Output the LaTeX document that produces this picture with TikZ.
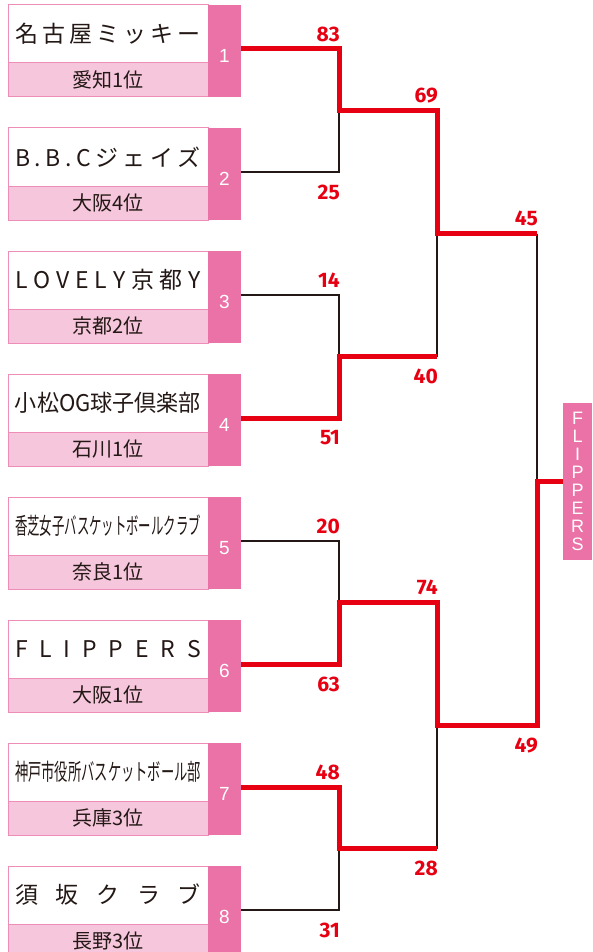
\documentclass[tikz,border=0pt]{standalone}
\usepackage{fontspec}
\usepackage{graphicx}
\usepackage{xcolor}
\setmainfont{Noto Sans CJK JP}
\newfontfamily\numfont{Liberation Sans}
\newfontfamily\scorefont{Fira Sans}
\definecolor{numpink}{HTML}{EA72A7}
\definecolor{subpink}{HTML}{F6C7DC}
\definecolor{edgepink}{HTML}{EF8DB9}
\definecolor{winred}{HTML}{E60012}
\definecolor{inkblack}{HTML}{231815}
\makeatletter
\newcommand{\spreadname}[1]{\makebox[186pt][s]{\@tfor\tmpch:=#1\do{\tmpch\hfill}\unskip}}
\makeatother
\newcommand{\squeezename}[1]{\resizebox{186pt}{\height}{#1}}
\tikzset{
	namebox/.style={draw=edgepink, line width=1pt, fill=white, minimum width=200pt, minimum height=58pt, inner sep=0pt, text=inkblack, font=\fontsize{23}{23}\selectfont},
	subbox/.style={draw=edgepink, line width=1pt, fill=subpink, minimum width=200pt, minimum height=34pt, inner sep=0pt, text=inkblack, font=\fontsize{20}{20}\selectfont},
	numbox/.style={fill=numpink, minimum width=33pt, minimum height=92pt, inner sep=0pt},
	seed/.style={inner sep=0pt, yshift=-5pt, text=white, font=\numfont\fontsize{19}{19}\selectfont},
	champbox/.style={fill=numpink, minimum width=29pt, minimum height=157pt, inner sep=0pt, text=white, align=center, font=\numfont\fontsize{18}{18}\selectfont},
	score/.style={anchor=east, inner sep=0pt, text=winred, font=\scorefont\bfseries\fontsize{21}{21}\selectfont},
	lost/.style={draw=inkblack, line width=1.6pt},
	won/.style={draw=winred, line width=5pt}
}
\newcommand{\team}[4]{
	%name
	\node[namebox] (w#1) at (108,#2+29) {#3};
	%
	%rank
	\node[subbox] (p#1) at (108,#2+75) {#4};
	%
	%seed
	\node[numbox, label={[seed]center:#1}] (n#1) at (224.5,#2+46) {};
}

\begin{document}
\begin{tikzpicture}[x=1pt, y=-1pt]
	\useasboundingbox (0,0) rectangle (592,952);
	
	\team{1}{5}{\spreadname{名古屋ミッキー}}{愛知1位}
	\team{2}{128}{\spreadname{B.B.Cジェイズ}}{大阪4位}
	\team{3}{251}{\spreadname{LOVELY京都Y}}{京都2位}
	\team{4}{374}{\squeezename{小松OG球子倶楽部}}{石川1位}
	\team{5}{497}{\squeezename{香芝女子バスケットボールクラブ}}{奈良1位}
	\team{6}{620}{\spreadname{FLIPPERS}}{大阪1位}
	\team{7}{743}{\squeezename{神戸市役所バスケットボール部}}{兵庫3位}
	\team{8}{866}{\spreadname{須坂クラブ}}{長野3位}
	
	\node[champbox] (champ) at (577.5,481) {F\\L\\I\\P\\P\\E\\R\\S};
	
	%joints
	\coordinate (j1) at (339,110.5);
	\coordinate (j2) at (339,356.5);
	\coordinate (j3) at (339,602.5);
	\coordinate (j4) at (339,848.5);
	\coordinate (k1) at (437,233.5);
	\coordinate (k2) at (437,725.5);
	\coordinate (m) at (537,481);
	
	%lost
	\draw[lost] ([yshift=2pt]n2.east) -| (j1);
	\draw[lost] ([yshift=2pt]n3.east) -| (j2);
	\draw[lost] ([yshift=2pt]n5.east) -| (j3);
	\draw[lost] ([yshift=2pt]n8.east) -| (j4);
	\draw[lost] (j2 -| k1) -- (k1);
	\draw[lost] (j4 -| k2) -- (k2);
	\draw[lost] (k1 -| m) -- (m);
	
	%won
	\draw[won] ([yshift=2pt]n1.east) -| (j1) -| (k1) -- (k1 -| m);
	\draw[won] ([yshift=2pt]n4.east) -| (j2) -- (j2 -| k1);
	\draw[won] ([yshift=2pt]n7.east) -| (j4) -- (j4 -| k2);
	\draw[won] ([yshift=2pt]n6.east) -| (j3) -| (k2) -| (m) -- (champ.west);
	
	%scores
	\node[score] (s1) at (340,34) {83};
	\node[score] (s2) at (340,192) {25};
	\node[score] (s3) at (340,280) {14};
	\node[score] (s4) at (340,438) {51};
	\node[score] (s5) at (340,526) {20};
	\node[score] (s6) at (340,684) {63};
	\node[score] (s7) at (340,772) {48};
	\node[score] (s8) at (340,930) {31};
	\node[score] (q1) at (438,95.5) {69};
	\node[score] (q2) at (438,376.5) {40};
	\node[score] (q3) at (438,587.5) {74};
	\node[score] (q4) at (438,868.5) {28};
	\node[score] (f1) at (538,218.5) {45};
	\node[score] (f2) at (538,745.5) {49};
\end{tikzpicture}
\end{document}
